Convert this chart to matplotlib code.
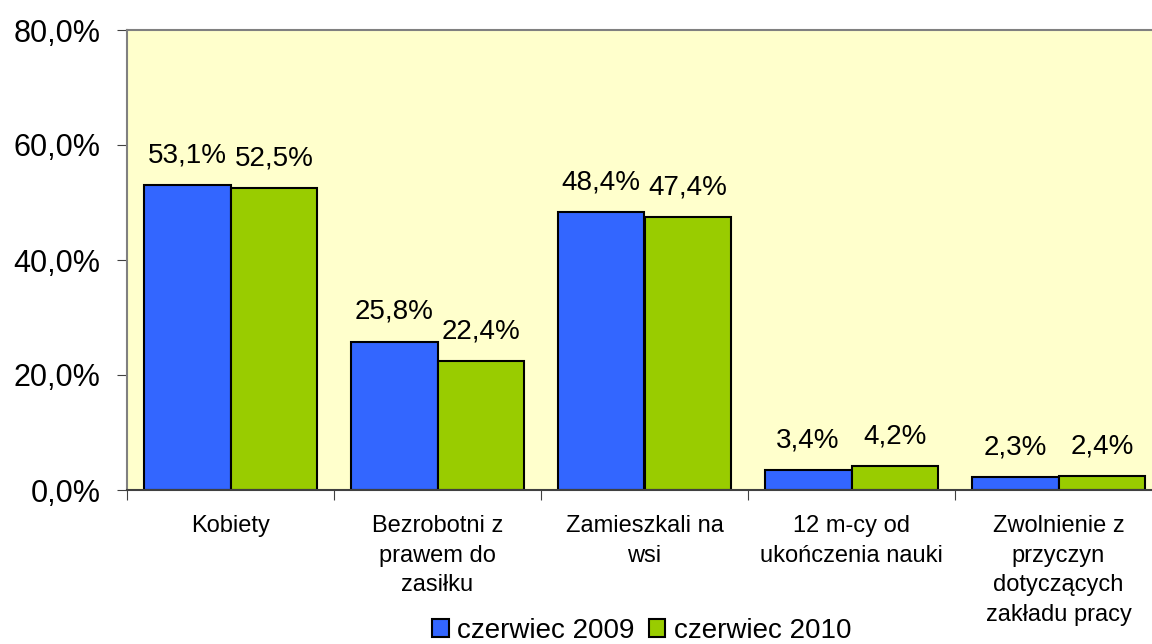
import matplotlib
matplotlib.use("Agg")
import matplotlib.pyplot as plt
import numpy as np

categories = ["Kobiety", "Bezrobotni z\nprawem do\nzasiłku", "Zamieszkali na\nwsi",
              "12 m-cy od\nukończenia nauki", "Zwolnienie z\nprzyczyn\ndotyczących\nzakładu pracy"]
series_names = ["czerwiec 2009", "czerwiec 2010"]
values_2009 = [53.1, 25.8, 48.4, 3.4, 2.3]
values_2010 = [52.5, 22.4, 47.4, 4.2, 2.4]
yticks = [0, 20, 40, 60, 80]

plt.rcParams['font.family'] = ['Liberation Sans', 'DejaVu Sans']

W, H = 1152, 644
fig = plt.figure(figsize=(W/100, H/100), dpi=100)
left, right, top, bottom = 127, 1162, 30, 490
ax = fig.add_axes([left/W, 1-bottom/H, (right-left)/W, (bottom-top)/H])
ax.set_facecolor("#FFFFCC")

x = np.arange(len(categories))
bw = 0.42
b1 = ax.bar(x - bw/2, values_2009, bw, color="#3366FF", edgecolor="black", linewidth=1.5, label=series_names[0])
b2 = ax.bar(x + bw/2, values_2010, bw, color="#99CC00", edgecolor="black", linewidth=1.5, label=series_names[1])

def fmt(v):
    return f"{v:.1f}%".replace(".", ",")

for bars, vals in ((b1, values_2009), (b2, values_2010)):
    for r, v in zip(bars, vals):
        ax.annotate(fmt(v), (r.get_x() + r.get_width()/2, v), xytext=(0, 12),
                    textcoords="offset points", ha="center", va="bottom", fontsize=20)

ax.set_xlim(-0.5, len(categories) - 0.5)
ax.set_ylim(0, 80)
ax.set_yticks(yticks)
ax.set_yticklabels([f"{t:.1f}%".replace(".", ",") for t in yticks], fontsize=22)
ax.set_xticks(np.arange(len(categories) + 1) - 0.5)
ax.set_xticklabels([])
ax.set_xticks(x, minor=True)
ax.set_xticklabels(categories, minor=True, fontsize=17, linespacing=1.45, va="top")
ax.tick_params(axis="x", which="minor", length=0, pad=18)
ax.tick_params(axis="x", which="major", length=7, direction="out", color="#404040")
ax.tick_params(axis="y", length=7, direction="out", color="#404040", pad=12)
for s in ["left", "top", "bottom"]:
    ax.spines[s].set_color("#808080")
    ax.spines[s].set_linewidth(1.5)
ax.spines["bottom"].set_color("#404040")
ax.spines["right"].set_visible(False)

leg = fig.legend(handles=[b1, b2], loc="center", bbox_to_anchor=(0.557, 1 - 631/H), ncol=2,
                 frameon=False, fontsize=20, handlelength=0.6, handleheight=0.6,
                 handletextpad=0.3, columnspacing=0.5, borderpad=0)

fig.savefig("out.png", dpi=100)
